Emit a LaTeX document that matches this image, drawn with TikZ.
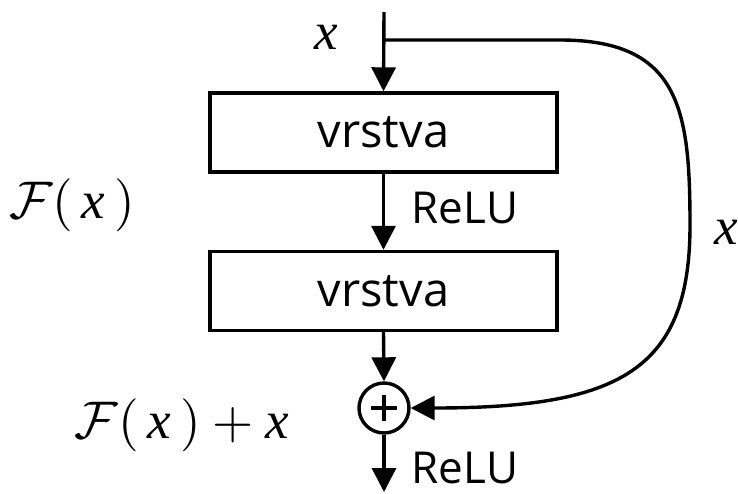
\documentclass[tikz,border=0pt]{standalone}
\usepackage{fontspec}
\usepackage{graphicx}
\setmainfont{Liberation Serif}
\newfontfamily\labelfont{Open Sans}
\usetikzlibrary{arrows.meta}
% italic x set in the text font, used inside formulas
\newcommand{\vx}{\mbox{\itshape x}}
\newcommand{\bigmath}[1]{\scalebox{5.3}{$#1$}}
\begin{document}
\begin{tikzpicture}[x=1pt,y=-1pt,
  line width=3.4pt,
  tip/.style={-{Triangle[width=24pt,length=24pt]}},
  layer/.style={draw,rectangle,minimum width=347pt,minimum height=79pt,inner sep=0pt,
    font=\labelfont\fontsize{47}{50}\selectfont},
  lbl/.style={font=\labelfont\fontsize{44}{48}\selectfont,inner sep=0pt,anchor=base west},
  mathlbl/.style={inner sep=0pt}]
\useasboundingbox (0,0) rectangle (738,493);
% blocks
\node[layer] (l1) at (383.5,132.5) {vrstva};
\node[layer] (l2) at (383.5,291) {vrstva};
\node[draw,circle,minimum size=50pt,inner sep=0pt] (sum) at (384,408) {};
\draw ([yshift=-13pt]sum.center) -- ([yshift=13pt]sum.center)
  ([xshift=-13pt]sum.center) -- ([xshift=13pt]sum.center);
% points of the main path
\coordinate (in) at (384,12);
\coordinate (split) at (384,40);
\coordinate (out) at (384,492);
% main path
\draw[tip] (in) -- (l1.north);
\draw[tip] (l1.south) -- (l2.north);
\draw[tip] (l2.south) -- (sum.north);
\draw[tip] (sum.south) -- (out);
% shortcut
\draw[tip] (split) -- (560,40) .. controls (680,40) and (690,110) .. (690,225)
  .. controls (690,370) and (620,408) .. (sum.east);
% labels
\node[mathlbl] (xin) at (326,37) {\bigmath{\vx}};
\node[mathlbl] (xskip) at (726,232) {\bigmath{\vx}};
\node[mathlbl] (fx) at (72,205) {\bigmath{\mathcal{F}(\,\vx\,)}};
\node[mathlbl] (fxx) at (182,425) {\bigmath{\mathcal{F}(\,\vx\,)+\vx}};
\node[lbl] (relu1) at (410,223) {ReLU};
\node[lbl] (relu2) at (410,483) {ReLU};
\end{tikzpicture}
\end{document}
